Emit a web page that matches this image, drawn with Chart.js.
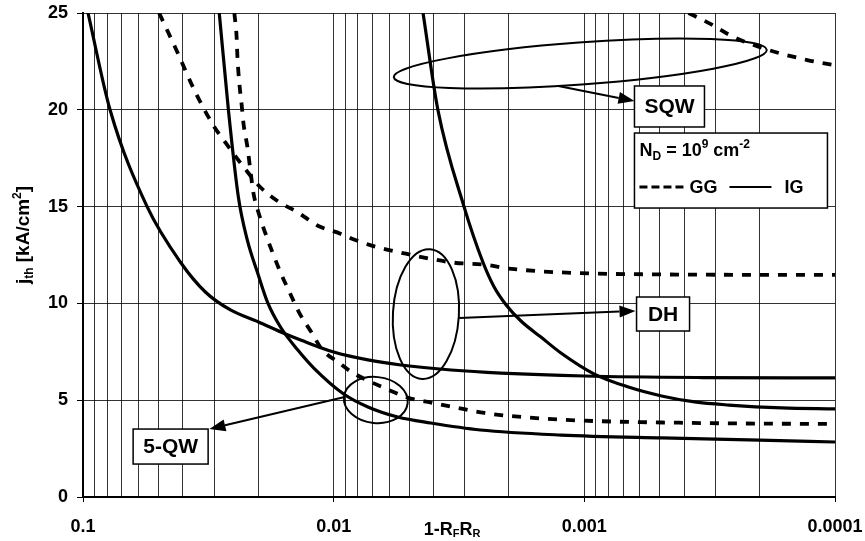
<!DOCTYPE html>
<html>
<head>
<meta charset="utf-8">
<script src="https://cdn.jsdelivr.net/npm/chart.js@4.4.1/dist/chart.umd.min.js"></script>
<style>
  html, body { margin: 0; padding: 0; background: #fff; }
  #wrap { width: 865px; height: 541px; }
</style>
</head>
<body>
<div id="wrap"><canvas id="jth"></canvas></div>
<script>
const FONT = '"Liberation Sans", Arial, sans-serif';

// x axis: 1 - RF*RR (log, reversed)
const xTickValues = [0.1, 0.01, 0.001, 0.0001];
const xTickLabels = ['0.1', '0.01', '0.001', '0.0001'];
const yTickStep = 5;

// DH, ideal gain (IG)
const dhIgX = [0.0955, 0.078, 0.0555, 0.0409, 0.0325, 0.0258, 0.01995, 0.01556, 0.01355, 0.010, 0.0073, 0.0054, 0.0034, 0.00215, 0.001, 0.00034, 0.0001];
const dhIgY = [25, 20.0, 15.0, 12.14, 10.59, 9.66, 9.04, 8.42, 8.11, 7.49, 7.08, 6.82, 6.56, 6.4, 6.25, 6.17, 6.15];

// DH, gain guided (GG)
const dhGgX = [0.0497, 0.0421, 0.0356, 0.0302, 0.027, 0.0221, 0.0196, 0.0168, 0.0139, 0.0115, 0.0094, 0.0083, 0.0067, 0.0053, 0.0041, 0.0033, 0.0025, 0.002, 0.00124, 0.00054, 0.0001];
const dhGgY = [25, 23.0, 20.9, 19.2, 18.3, 16.8, 16.0, 15.3, 14.7, 14.0, 13.6, 13.3, 12.9, 12.6, 12.3, 12.1, 12.0, 11.8, 11.6, 11.5, 11.47];

// 5-QW, ideal gain
const qw5IgX = [0.0286, 0.0263, 0.024, 0.0221, 0.0201, 0.01837, 0.0163, 0.0139, 0.012, 0.00912, 0.0073, 0.00555, 0.0041, 0.0026, 0.00124, 0.00049, 0.0002, 0.0001];
const qw5IgY = [25, 20.0, 15.5, 13.27, 11.57, 10.07, 8.78, 7.59, 6.66, 5.32, 4.65, 4.13, 3.82, 3.46, 3.2, 3.05, 2.94, 2.84];

// 5-QW, gain guided
const qw5GgX = [0.0249, 0.0244, 0.0242, 0.0238, 0.0233, 0.0229, 0.0221, 0.0215, 0.0209, 0.01995, 0.0187, 0.0175, 0.0163, 0.0149, 0.0137, 0.01225, 0.0111, 0.0096, 0.0085, 0.0071, 0.0059, 0.0050, 0.0042, 0.0032, 0.0025, 0.00196, 0.00118, 0.00034, 0.0001];
const qw5GgY = [25, 23.8, 22.7, 21.4, 20.3, 19.3, 18.1, 16.9, 15.7, 14.7, 13.6, 12.6, 11.6, 10.5, 9.5, 8.5, 7.6, 6.97, 6.46, 5.94, 5.48, 5.11, 4.91, 4.6, 4.34, 4.18, 3.98, 3.82, 3.77];

// SQW, ideal gain
const sqwIgX = [0.0044, 0.00384, 0.00302, 0.00254, 0.00229, 0.00205, 0.00179, 0.00149, 0.00124, 0.000912, 0.000667, 0.000492, 0.000363, 0.000265, 0.000163, 0.0001];
const sqwIgY = [25, 20.0, 15.0, 12.14, 10.85, 9.92, 9.09, 8.26, 7.44, 6.35, 5.68, 5.22, 4.91, 4.75, 4.6, 4.55];

// SQW, gain guided
const sqwGgX = [0.000384, 0.00031, 0.000263, 0.000196, 0.000129, 0.0001];
const sqwGgY = [25, 24.4, 23.86, 23.2, 22.57, 22.3];

const pts = (xs, ys) => xs.map((x, i) => ({ x, y: ys[i] }));
const isDecade = v => xTickValues.some(d => Math.abs(d - v) / d < 1e-6);

const solid = { borderColor: '#000', borderWidth: 3.2, pointRadius: 0, fill: false, cubicInterpolationMode: 'monotone' };
const dashed = { ...solid, borderWidth: 3.8, borderDash: [9, 9] };

// callouts: ellipses, arrows and label boxes (anchors in data units, sizes in px)
const ellipses = [
  { x: 0.001038, y: 22.39, rx: 187, ry: 21, rot: -0.073 },
  { x: 0.004285, y: 9.45, rx: 33, ry: 65, rot: 0.06 },
  { x: 0.00679, y: 5.01, rx: 32, ry: 23, rot: 0.1 }
];
const arrows = [
  { x0: 0.00127, y0: 21.23, x1: 0.000631, y1: 20.45 },
  { x0: 0.00316, y0: 9.25, x1: 0.000625, y1: 9.61 },
  { x0: 0.00904, y0: 5.17, x1: 0.0313, y1: 3.51 }
];
const boxes = [
  { text: 'SQW', x: 0.000631, y: 21.23, w: 70, h: 41 },
  { text: 'DH', x: 0.000619, y: 10.33, w: 53, h: 34 },
  { text: '5-QW', x: 0.0631, y: 3.51, w: 75, h: 35 }
];
const keyBox = { x: 0.000631, y: 18.8, w: 193, h: 75 };

function richWidth(ctx, segs) {
  let w = 0;
  segs.forEach(s => { ctx.font = 'bold ' + s.size + 'px ' + FONT; w += ctx.measureText(s.t).width; });
  return w;
}
function drawRich(ctx, segs, x, y) {
  ctx.textAlign = 'left';
  ctx.textBaseline = 'alphabetic';
  segs.forEach(s => {
    ctx.font = 'bold ' + s.size + 'px ' + FONT;
    ctx.fillText(s.t, x, y + (s.dy || 0));
    x += ctx.measureText(s.t).width;
  });
}
function drawArrow(ctx, x0, y0, x1, y1) {
  const a = Math.atan2(y1 - y0, x1 - x0);
  const len = 16, hw = 6;
  const bx = x1 - len * Math.cos(a), by = y1 - len * Math.sin(a);
  ctx.lineWidth = 2;
  ctx.beginPath(); ctx.moveTo(x0, y0); ctx.lineTo(bx, by); ctx.stroke();
  ctx.beginPath();
  ctx.moveTo(x1, y1);
  ctx.lineTo(bx + hw * Math.sin(a), by - hw * Math.cos(a));
  ctx.lineTo(bx - hw * Math.sin(a), by + hw * Math.cos(a));
  ctx.closePath(); ctx.fill();
}

const callouts = {
  id: 'callouts',
  afterDatasetsDraw(chart) {
    const { ctx, scales: { x, y }, chartArea } = chart;
    const px = v => x.getPixelForValue(v);
    const py = v => y.getPixelForValue(v);
    ctx.save();
    ctx.strokeStyle = '#000';
    ctx.fillStyle = '#000';

    ellipses.forEach(e => {
      ctx.lineWidth = 2;
      ctx.beginPath();
      ctx.ellipse(px(e.x), py(e.y), e.rx, e.ry, e.rot, 0, Math.PI * 2);
      ctx.stroke();
    });
    arrows.forEach(a => drawArrow(ctx, px(a.x0), py(a.y0), px(a.x1), py(a.y1)));

    boxes.forEach(b => {
      const bx = px(b.x), by = py(b.y);
      ctx.fillStyle = '#fff';
      ctx.fillRect(bx, by, b.w, b.h);
      ctx.lineWidth = 1.5;
      ctx.strokeRect(bx, by, b.w, b.h);
      ctx.fillStyle = '#000';
      ctx.font = 'bold 21px ' + FONT;
      ctx.textAlign = 'center';
      ctx.textBaseline = 'middle';
      ctx.fillText(b.text, bx + b.w / 2, by + b.h / 2 + 1);
    });

    // key: N_D = 10^9 cm^-2, GG dashed / IG solid
    const kx = px(keyBox.x), ky = py(keyBox.y);
    ctx.fillStyle = '#fff';
    ctx.fillRect(kx, ky, keyBox.w, keyBox.h);
    ctx.lineWidth = 1.5;
    ctx.strokeRect(kx, ky, keyBox.w, keyBox.h);
    ctx.fillStyle = '#000';
    drawRich(ctx, [
      { t: 'N', size: 18 }, { t: 'D', size: 12, dy: 4 }, { t: ' = 10', size: 18 },
      { t: '9', size: 12, dy: -8 }, { t: ' cm', size: 18 }, { t: '-2', size: 12, dy: -8 }
    ], kx + 5, ky + 23);
    ctx.lineWidth = 3;
    ctx.setLineDash([8, 4]);
    ctx.beginPath(); ctx.moveTo(kx + 5, ky + 54); ctx.lineTo(kx + 52, ky + 54); ctx.stroke();
    ctx.setLineDash([]);
    drawRich(ctx, [{ t: 'GG', size: 18 }], kx + 55, ky + 60);
    ctx.lineWidth = 2;
    ctx.beginPath(); ctx.moveTo(kx + 95, ky + 54); ctx.lineTo(kx + 137, ky + 54); ctx.stroke();
    drawRich(ctx, [{ t: 'IG', size: 18 }], kx + 150, ky + 60);

    // axis titles
    const xt = [{ t: '1-R', size: 18 }, { t: 'F', size: 11, dy: 2 }, { t: 'R', size: 18 }, { t: 'R', size: 11, dy: 2 }];
    const cx = (chartArea.left + chartArea.right) / 2 - 7;
    drawRich(ctx, xt, cx - richWidth(ctx, xt) / 2, 535);

    const yt = [{ t: 'j', size: 19 }, { t: 'th', size: 12, dy: 4 }, { t: ' [kA/cm', size: 19 }, { t: '2', size: 12, dy: -8 }, { t: ']', size: 19 }];
    ctx.translate(29, 235);
    ctx.rotate(-Math.PI / 2);
    drawRich(ctx, yt, -richWidth(ctx, yt) / 2, 0);
    ctx.restore();
  }
};

new Chart(document.getElementById('jth'), {
  type: 'line',
  data: {
    datasets: [
      { label: 'DH IG', data: pts(dhIgX, dhIgY), ...solid },
      { label: '5-QW IG', data: pts(qw5IgX, qw5IgY), ...solid },
      { label: 'SQW IG', data: pts(sqwIgX, sqwIgY), ...solid },
      { label: 'DH GG', data: pts(dhGgX, dhGgY), ...dashed },
      { label: '5-QW GG', data: pts(qw5GgX, qw5GgY), ...dashed },
      { label: 'SQW GG', data: pts(sqwGgX, sqwGgY), ...dashed }
    ]
  },
  options: {
    responsive: true,
    maintainAspectRatio: false,
    animation: false,
    layout: { padding: { top: 13, right: 30, left: 0, bottom: 0 } },
    plugins: { legend: { display: false }, tooltip: { enabled: false } },
    scales: {
      x: {
        type: 'logarithmic',
        reverse: true,
        min: 0.0001,
        max: 0.1,
        afterBuildTicks: scale => {
          const t = [];
          for (let e = -4; e <= -2; e++) {
            for (let m = 1; m <= 9; m++) t.push({ value: m * Math.pow(10, e) });
          }
          t.push({ value: 0.1 });
          scale.ticks = t;
        },
        afterFit: scale => { scale.height = 44; },
        ticks: {
          autoSkip: false,
          maxRotation: 0,
          padding: 14,
          color: '#000',
          font: { family: FONT, size: 18, weight: 'bold' },
          callback: v => {
            const i = xTickValues.findIndex(d => Math.abs(d - v) / d < 1e-6);
            return i >= 0 ? xTickLabels[i] : '';
          }
        },
        grid: {
          color: 'rgba(0,0,0,0.8)',
          lineWidth: 1,
          tickLength: 5,
          tickColor: c => (c.tick && isDecade(c.tick.value)) ? '#000' : 'rgba(0,0,0,0)'
        },
        border: { color: '#000', width: 2 }
      },
      y: {
        min: 0,
        max: 25,
        afterFit: scale => {
          scale.width = 83;
          scale.paddingTop = 0;
          scale.paddingBottom = 0;
        },
        ticks: {
          stepSize: yTickStep,
          padding: 9,
          color: '#000',
          font: { family: FONT, size: 18, weight: 'bold' }
        },
        grid: { color: 'rgba(0,0,0,0.8)', lineWidth: 1, tickLength: 6, tickColor: '#000' },
        border: { color: '#000', width: 2 }
      }
    }
  },
  plugins: [callouts]
});
</script>
</body>
</html>
